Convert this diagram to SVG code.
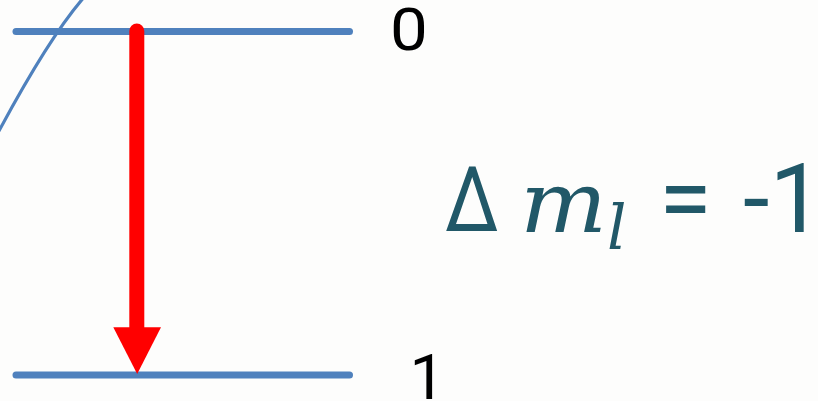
<svg xmlns="http://www.w3.org/2000/svg" width="818" height="401" viewBox="0 0 818 401">
  <style>
    .level { stroke: #4f81bd; stroke-width: 7; stroke-linecap: round; fill: none; }
    .curve { stroke: #4f81bd; stroke-width: 3.2; fill: none; }
    .label { font-family: Roboto, "Liberation Sans", Arial, sans-serif; fill: #000000; }
    .eq { font-family: Roboto, "Liberation Sans", Arial, sans-serif; fill: #215868; }
    .eqi { font-family: "DejaVu Serif", serif; font-style: italic; fill: #215868; }
  </style>
  <rect x="0" y="0" width="818" height="401" fill="#fdfdfc"/>
  <g id="curve">
    <path class="curve" d="M -2,132.7 L 0,129 Q 48.7,38.8 81.7,0 L 83.4,-2"/>
  </g>
  <g id="level-0">
    <line class="level" x1="16" y1="31.5" x2="349.5" y2="31.5"/>
    <text class="label" font-size="58.5" transform="translate(390,50.3) scale(1.15,1)">0</text>
  </g>
  <g id="level-1">
    <line class="level" x1="16" y1="375" x2="349.5" y2="375"/>
    <text class="label" font-size="63.5" x="409.5" y="399.3">1</text>
  </g>
  <g id="connectors">
    <line x1="136.8" y1="31" x2="136.8" y2="330" stroke="#ff0000" stroke-width="15" stroke-linecap="round"/>
    <polygon points="113.3,327.3 161,327.3 137.2,374" fill="#ff0000"/>
  </g>
  <g id="formula">
    <text class="eq" font-size="90" transform="translate(445,231) scale(0.85,1)">Δ</text>
    <text class="eqi" font-size="85" transform="translate(520,231.5) scale(1.08,1)">m</text>
    <text class="eqi" font-size="61" x="607" y="249">l</text>
    <text class="eq" font-size="96" x="659" y="231.5">=</text>
    <text class="eq" font-size="96" x="743" y="231.5">-1</text>
  </g>
</svg>
